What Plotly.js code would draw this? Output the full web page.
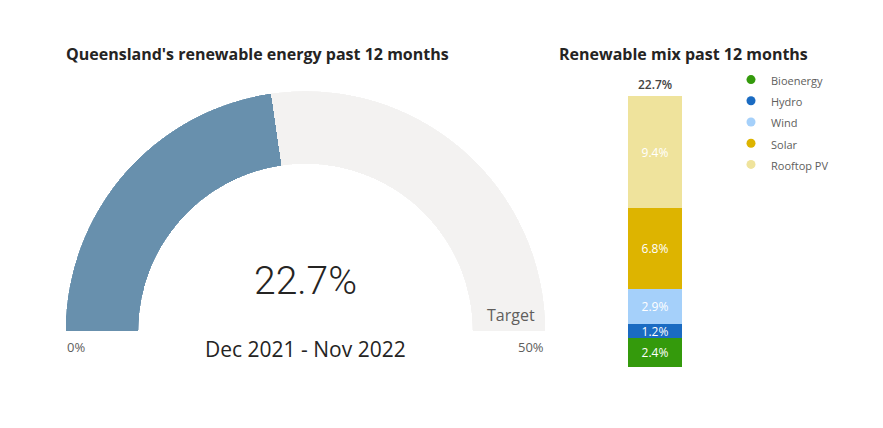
<!DOCTYPE html>
<html>
<head>
<meta charset="utf-8">
<script src="https://cdn.plot.ly/plotly-3.0.1.min.js"></script>
<style>html,body{margin:0;padding:0;background:#fff;}#chart{width:883px;height:428px;}</style>
</head>
<body>
<div id="chart"></div>
<script>
// ---- Data ----
var gaugeValue = 22.7;
var gaugeMin = 0;
var gaugeMax = 50;
var gaugeMinLabel = '0%';
var gaugeMaxLabel = '50%';
var gaugeTargetLabel = 'Target';
var gaugePeriod = 'Dec 2021 - Nov 2022';

var mixCategory = ['Renewable mix'];
var mixSources = ['Bioenergy', 'Hydro', 'Wind', 'Solar', 'Rooftop PV'];
var mixValues = [2.4, 1.2, 2.9, 6.8, 9.4];
var mixColors = ['#349a0c', '#1a6bc2', '#a5d0fa', '#ddb400', '#efe39c'];

var leftTitle = "Queensland's renewable energy past 12 months";
var rightTitle = 'Renewable mix past 12 months';

// ---- Build ----
var FONT = '"Open Sans", "Noto Sans", sans-serif';
var W = 883, H = 428;
function px(x){ return x / W; }
function py(y){ return 1 - y / H; }

var degPerUnit = 180 / (gaugeMax - gaugeMin);
var traces = [];

traces.push({
  type: 'barpolar',
  subplot: 'polar',
  r: [1, 1],
  theta: [ (gaugeValue - gaugeMin) / 2 * degPerUnit,
           ((gaugeValue - gaugeMin) + (gaugeMax - gaugeMin)) / 2 * degPerUnit ],
  width: [ (gaugeValue - gaugeMin) * degPerUnit, (gaugeMax - gaugeValue) * degPerUnit ],
  marker: { color: ['#6890ad', '#f3f2f1'], line: { width: 0 } },
  hoverinfo: 'skip',
  showlegend: false
});

var total = 0;
mixSources.forEach(function(name, i){
  total += mixValues[i];
  traces.push({
    type: 'bar',
    x: mixCategory,
    y: [mixValues[i]],
    name: name,
    marker: { color: mixColors[i], line: { width: 0 } },
    text: [mixValues[i].toFixed(1) + '%'],
    textposition: 'inside',
    insidetextanchor: 'middle',
    constraintext: 'none',
    textfont: { color: '#ffffff', size: 12, family: FONT },
    showlegend: false,
    hoverinfo: 'name+y'
  });
});
mixSources.forEach(function(name, i){
  traces.push({
    type: 'scatter',
    mode: 'markers',
    x: [null],
    y: [null],
    name: '<span style="font-size:11px">' + name + '</span>',
    marker: { color: mixColors[i], size: 9, symbol: 'circle' },
    showlegend: true,
    hoverinfo: 'skip'
  });
});

var layout = {
  width: W,
  height: H,
  margin: { l: 0, r: 0, t: 0, b: 0, pad: 0 },
  paper_bgcolor: '#ffffff',
  plot_bgcolor: 'rgba(0,0,0,0)',
  font: { family: FONT, color: '#605e5c' },
  showlegend: true,
  title: {
    text: '<b>' + leftTitle + '</b>',
    x: px(66), xanchor: 'left', xref: 'paper',
    y: py(54), yanchor: 'middle', yref: 'paper',
    font: { family: FONT, size: 16, color: '#252423' }
  },
  polar: {
    domain: { x: [px(65.5), px(545.5)], y: [py(331), py(91)] },
    sector: [0, 180],
    hole: 0.696,
    bgcolor: 'rgba(0,0,0,0)',
    radialaxis: { visible: false, range: [0, 1] },
    angularaxis: { visible: false, rotation: 180, direction: 'clockwise' }
  },
  barmode: 'stack',
  bargap: 0,
  xaxis: {
    domain: [px(628), px(682)],
    range: [-0.5, 0.5],
    visible: false, fixedrange: true
  },
  yaxis: {
    domain: [py(367), py(96)],
    range: [0, total],
    visible: false, fixedrange: true
  },
  legend: {
    x: px(731), xanchor: 'left',
    y: py(64), yanchor: 'top',
    traceorder: 'normal',
    bgcolor: 'rgba(0,0,0,0)',
    font: { family: FONT, size: 14, color: '#605e5c' },
    itemwidth: 30,
    tracegroupgap: 0
  },
  annotations: [
    { text: '<b>' + rightTitle + '</b>', xref: 'paper', yref: 'paper',
      x: px(557), xanchor: 'left', y: py(54), yanchor: 'middle', showarrow: false,
      font: { family: FONT, size: 16, color: '#252423' } },
    { text: total.toFixed(1) + '%', xref: 'x', yref: 'y', x: mixCategory[0], y: total,
      yanchor: 'bottom', yshift: 1, showarrow: false,
      font: { family: FONT, size: 12, color: '#444444', weight: 600 } },
    { text: gaugeValue.toFixed(1) + '%', xref: 'paper', yref: 'paper',
      x: px(305.5), xanchor: 'center', y: py(281), yanchor: 'middle', showarrow: false,
      font: { family: 'Roboto, sans-serif', size: 39, color: '#252423', weight: 300 } },
    { text: gaugePeriod, xref: 'paper', yref: 'paper',
      x: px(305.5), xanchor: 'center', y: py(349), yanchor: 'middle', showarrow: false,
      font: { family: FONT, size: 21, color: '#252423' } },
    { text: gaugeTargetLabel, xref: 'paper', yref: 'paper',
      x: px(537), xanchor: 'right', y: py(315), yanchor: 'middle', showarrow: false,
      font: { family: FONT, size: 16, color: '#605e5c' } },
    { text: gaugeMinLabel, xref: 'paper', yref: 'paper',
      x: px(65), xanchor: 'left', y: py(347), yanchor: 'middle', showarrow: false,
      font: { family: FONT, size: 13, color: '#605e5c' } },
    { text: gaugeMaxLabel, xref: 'paper', yref: 'paper',
      x: px(546), xanchor: 'right', y: py(347), yanchor: 'middle', showarrow: false,
      font: { family: FONT, size: 13, color: '#605e5c' } }
  ]
};

Plotly.newPlot('chart', traces, layout, { displayModeBar: false, staticPlot: true });
</script>
</body>
</html>
